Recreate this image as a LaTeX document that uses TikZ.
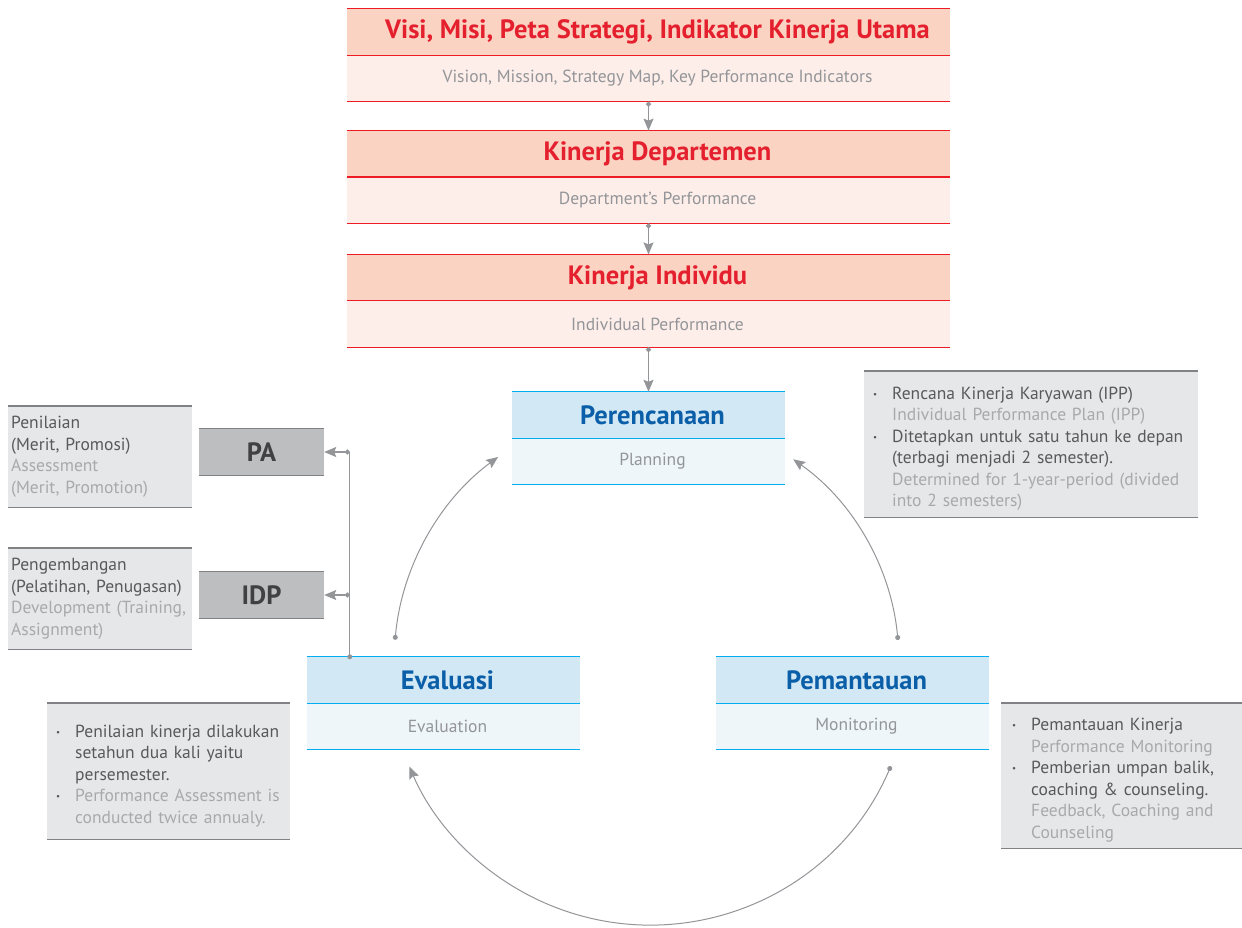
\documentclass[tikz,border=0pt]{standalone}
\usepackage{fontspec}
\setmainfont{PT Sans}
\usepackage{xcolor}
\usetikzlibrary{arrows.meta,positioning,calc}
\definecolor{salmon}{HTML}{FBD3C3}
\definecolor{blush}{HTML}{FDEEEA}
\definecolor{redline}{HTML}{ED1C24}
\definecolor{redtxt}{HTML}{E5202E}
\definecolor{subtxt}{HTML}{939598}
\definecolor{skyfill}{HTML}{D2E9F5}
\definecolor{icefill}{HTML}{EEF6FA}
\definecolor{blueline}{HTML}{00AEEF}
\definecolor{bluetxt}{HTML}{0B5EA8}
\definecolor{tagfill}{HTML}{BCBEC0}
\definecolor{notefill}{HTML}{E6E7E8}
\definecolor{ruleg}{HTML}{808285}
\definecolor{darktxt}{HTML}{414042}
\definecolor{notetxt}{HTML}{58595B}
\definecolor{entxt}{HTML}{A7A9AC}
\definecolor{arrowg}{HTML}{939598}
\newcommand{\bitem}{\par\hangindent=19pt\hangafter=1\noindent\makebox[19pt][l]{\raisebox{2pt}{\fontsize{9}{9}\selectfont\textbullet}}}
\newcommand{\en}{\color{entxt}}

\begin{document}
\begin{tikzpicture}[
    x=1pt, y=1pt,
    node distance=30pt,
    redhead/.style={fill=salmon, minimum width=603pt, minimum height=46pt, inner sep=0pt, text=redtxt, font=\fontsize{26.5}{30}\selectfont\bfseries, execute at begin node=\hspace*{18pt}},
    redsub/.style={redhead, fill=blush, text=subtxt, font=\fontsize{17.5}{20}\selectfont},
    bluehead/.style={fill=skyfill, minimum width=273pt, minimum height=46pt, inner sep=0pt, text=bluetxt, font=\fontsize{26.5}{30}\selectfont\bfseries, execute at begin node=\hspace*{8pt}},
    bluesub/.style={bluehead, fill=icefill, text=subtxt, font=\fontsize{17.5}{20}\selectfont},
    tagbox/.style={fill=tagfill, minimum width=125pt, minimum height=46pt, inner sep=0pt, text=darktxt, font=\fontsize{26.5}{30}\selectfont\bfseries},
    notebox/.style={fill=notefill, anchor=north west, inner xsep=3pt, inner ysep=0pt, text=notetxt, font=\fontsize{17.5}{21.5}\selectfont, execute at begin node=\raggedright},
    redrule/.style={draw=redline, line width=1.2pt},
    bluerule/.style={draw=blueline, line width=1.2pt},
    grayrule/.style={draw=ruleg, line width=1.2pt},
    flow/.style={draw=arrowg, line width=1.3pt, {Circle[length=5pt]}-{Stealth[length=12pt, width=10pt, inset=2pt]}},
    cyclearc/.style={flow, line width=1pt}
]
\useasboundingbox (0,0) rectangle (1242,-927);

% strategy cascade
\node[redhead] (visi) at (648.5,-32) {Visi, Misi, Peta Strategi, Indikator Kinerja Utama};
\node[redsub, below=0pt of visi] (visi-s) {Vision, Mission, Strategy Map, Key Performance Indicators};
\node[redhead, below=29pt of visi-s] (dept) {Kinerja Departemen};
\node[redsub, below=0pt of dept] (dept-s) {Department’s Performance};
\node[redhead, below=31pt of dept-s] (indiv) {Kinerja Individu};
\node[redsub, below=0pt of indiv] (indiv-s) {Individual Performance};

% cycle
\node[bluehead] (plan) at (648.5,-415) {Perencanaan};
\node[bluesub, below=0pt of plan] (plan-s) {Planning};
\node[bluehead] (eval) at (443.5,-680) {Evaluasi};
\node[bluesub, below=0pt of eval] (eval-s) {Evaluation};
\node[bluehead] (mon) at (852.5,-680) {Pemantauan};
\node[bluesub, below=0pt of mon] (mon-s) {Monitoring};

% outcomes
\node[tagbox] (pa) at (261.5,-452) {PA};
\node[tagbox] (idp) at (261.5,-595) {IDP};

% notes
\node[notebox, text width=178pt, minimum height=101pt] (assess) at (8,-406) {Penilaian\\(Merit, Promosi)\\{\en Assessment\\(Merit, Promotion)}};
\node[notebox, text width=178pt, minimum height=101pt] (develop) at (8,-548) {Pengembangan\\(Pelatihan, Penugasan)\\{\en Development (Training,\\Assignment)}};
\node[notebox, inner xsep=9pt, text width=316pt, minimum height=146pt] (plannote) at (864,-371) {\bitem Rencana Kinerja Karyawan (IPP)\newline{\en Individual Performance Plan (IPP)}\bitem Ditetapkan untuk satu tahun ke depan\newline(terbagi menjadi 2 semester).\newline{\en Determined for 1-year-period (divided\newline into 2 semesters)}\par};
\node[notebox, inner xsep=11pt, text width=219pt, minimum height=145pt] (monnote) at (1001,-703) {\bitem Pemantauan Kinerja\newline{\en Performance Monitoring}\bitem Pemberian umpan balik,\newline coaching \& counseling.\newline{\en Feedback, Coaching and\newline Counseling}\par};
\node[notebox, inner xsep=9pt, text width=225pt, minimum height=136pt] (evalnote) at (47,-703) {\bitem Penilaian kinerja dilakukan\newline setahun dua kali yaitu\newline persemester.\bitem {\en Performance Assessment is\newline conducted twice annualy.}\par};

% rules
\foreach \n in {visi,dept,indiv} {
  \draw[redrule] (\n.north west) -- (\n.north east);
  \draw[redrule] (\n.south west) -- (\n.south east);
  \draw[redrule] (\n-s.south west) -- (\n-s.south east);
}
\foreach \n in {plan,eval,mon} {
  \draw[bluerule] (\n.north west) -- (\n.north east);
  \draw[bluerule] (\n.south west) -- (\n.south east);
  \draw[bluerule] (\n-s.south west) -- (\n-s.south east);
}
\foreach \n in {pa,idp,assess,develop,plannote,monnote,evalnote} {
  \draw[grayrule] (\n.north west) -- (\n.north east);
  \draw[grayrule] (\n.south west) -- (\n.south east);
}

% arrows
\draw[flow] (visi-s.south) -- (dept.north);
\draw[flow] (dept-s.south) -- (indiv.north);
\draw[flow] (indiv-s.south) -- (plan.north);

\coordinate (tapE) at ([xshift=43pt]eval.north west);
\coordinate (tapPA) at (tapE |- pa.east);
\coordinate (tapIDP) at (tapE |- idp.east);
\draw[draw=arrowg, line width=1.3pt] (tapE) -- (tapPA);
\fill[arrowg] (tapE) circle (2.5pt);
\draw[flow] (tapPA) -- (pa.east);
\draw[flow] (tapIDP) -- (idp.east);

\coordinate (ring) at (650,-663);
\coordinate (arcL) at ($(ring)+(174.8:256)$);
\coordinate (arcR) at ($(ring)+(5.3:249)$);
\coordinate (arcB) at ($(ring)+(-23.2:262)$);
\draw[cyclearc] (arcL) arc[start angle=174.8, end angle=126.4, radius=256pt];
\draw[cyclearc] (arcR) arc[start angle=5.3, end angle=54.9, radius=249pt];
\draw[cyclearc] (arcB) arc[start angle=-23.2, end angle=-156.7, radius=262pt];
\end{tikzpicture}
\end{document}
